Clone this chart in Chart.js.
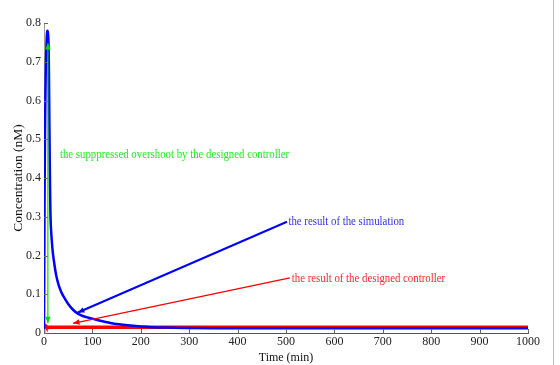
<!DOCTYPE html>
<html>
<head>
<meta charset="utf-8">
<script src="https://cdn.jsdelivr.net/npm/chart.js@4.4.1/dist/chart.umd.min.js"></script>
<style>
  html, body { margin: 0; padding: 0; background: #fff; }
  #wrap { width: 560px; height: 365px; position: relative; }
</style>
</head>
<body>
<div id="wrap"><canvas id="conc_chart"></canvas></div>
<script>
// tiempos y concentraciones
const simTime = [0, 1, 2, 3, 4, 5, 6, 7, 8, 9, 10, 11, 12, 13, 14, 16, 18, 20, 25, 30, 35, 40, 50, 60, 70, 80, 100, 125, 150, 200, 250, 300, 400, 500, 600, 700, 800, 900, 1000];
const simConc = [0, 0.30, 0.50, 0.62, 0.70, 0.74, 0.77, 0.78, 0.775, 0.76, 0.70, 0.56, 0.43, 0.33, 0.28, 0.24, 0.21, 0.19, 0.15, 0.125, 0.108, 0.095, 0.075, 0.060, 0.050, 0.044, 0.037, 0.029, 0.023, 0.017, 0.014, 0.013, 0.012, 0.012, 0.012, 0.012, 0.012, 0.012, 0.012];

const ctrlTime = [0, 1, 2, 3, 4, 5, 6, 8, 10, 20, 50, 100, 200, 300, 500, 700, 1000];
const ctrlConc = [0.022, 0.022, 0.021, 0.019, 0.017, 0.016, 0.0155, 0.015, 0.015, 0.015, 0.015, 0.015, 0.0148, 0.0148, 0.0148, 0.0148, 0.0148];

const xTicks = [0, 100, 200, 300, 400, 500, 600, 700, 800, 900, 1000];
const yTicks = [0, 0.1, 0.2, 0.3, 0.4, 0.5, 0.6, 0.7, 0.8];

// anotaciones (en unidades de datos)
const notes = [
    {text: 'the supppressed overshoot by the designed controller', color: '#22ee22', x: 33, y: 0.459},
    {text: 'the result of the simulation', color: '#3030ff', x: 505, y: 0.286},
    {text: 'the result of the designed controller', color: '#ff2828', x: 512, y: 0.141}
];
const arrows = [
    {color: '#0000ff', width: 2, from: [502, 0.287], to: [70, 0.053], heads: 1},
    {color: '#ff0000', width: 1.3, from: [508, 0.142], to: [60, 0.025], heads: 1},
    {color: '#00dd00', width: 1.2, from: [8, 0.025], to: [8, 0.748], heads: 2}
];

function toXY(pairsX, pairsY) {
    return pairsX.map((t, i) => ({x: t, y: pairsY[i]}));
}

function drawHead(ctx, x0, y0, x1, y1, size) {
    const a = Math.atan2(y1 - y0, x1 - x0);
    ctx.beginPath();
    ctx.moveTo(x1, y1);
    ctx.lineTo(x1 - size * Math.cos(a - 0.4), y1 - size * Math.sin(a - 0.4));
    ctx.lineTo(x1 - size * Math.cos(a + 0.4), y1 - size * Math.sin(a + 0.4));
    ctx.closePath();
    ctx.fill();
}

const decorPlugin = {
    id: 'decor',
    afterDatasetsDraw(chart) {
        const ctx = chart.ctx;
        const xs = chart.scales.x, ys = chart.scales.y;
        const area = chart.chartArea;
        ctx.save();
        // marcas hacia dentro
        ctx.strokeStyle = '#666';
        ctx.lineWidth = 1;
        xTicks.forEach(v => {
            const px = Math.round(xs.getPixelForValue(v)) + 0.5;
            ctx.beginPath(); ctx.moveTo(px, area.bottom); ctx.lineTo(px, area.bottom - 4); ctx.stroke();
        });
        yTicks.forEach(v => {
            const py = Math.round(ys.getPixelForValue(v)) + 0.5;
            ctx.beginPath(); ctx.moveTo(area.left, py); ctx.lineTo(area.left + 4, py); ctx.stroke();
        });
        // flechas
        arrows.forEach(a => {
            const x0 = xs.getPixelForValue(a.from[0]), y0 = ys.getPixelForValue(a.from[1]);
            const x1 = xs.getPixelForValue(a.to[0]), y1 = ys.getPixelForValue(a.to[1]);
            ctx.strokeStyle = a.color; ctx.fillStyle = a.color; ctx.lineWidth = a.width;
            ctx.beginPath(); ctx.moveTo(x0, y0); ctx.lineTo(x1, y1); ctx.stroke();
            drawHead(ctx, x0, y0, x1, y1, 7);
            if (a.heads === 2) drawHead(ctx, x1, y1, x0, y0, 7);
        });
        // textos
        ctx.font = '12px "Liberation Serif", serif';
        ctx.textBaseline = 'middle';
        notes.forEach(n => {
            ctx.save();
            ctx.translate(xs.getPixelForValue(n.x), ys.getPixelForValue(n.y));
            ctx.scale(0.9, 1);
            ctx.fillStyle = n.color;
            ctx.fillText(n.text, 0, 0);
            ctx.restore();
        });
        // borde rosa a la derecha
        ctx.strokeStyle = '#f2a3a3';
        ctx.lineWidth = 1;
        ctx.beginPath(); ctx.moveTo(553.5, 0); ctx.lineTo(553.5, chart.height); ctx.stroke();
        ctx.restore();
    }
};

const tickFont = {family: '"Liberation Serif", serif', size: 12};
const ctxConc = document.getElementById('conc_chart').getContext('2d');
const concChart = new Chart(ctxConc, {
    type: 'line',
    data: {
        datasets: [{
            label: 'simulation',
            data: toXY(simTime, simConc),
            borderColor: '#0000ff',
            borderWidth: 2.5,
            pointRadius: 0,
            tension: 0.3,
            fill: false
        }, {
            label: 'controller',
            data: toXY(ctrlTime, ctrlConc),
            borderColor: '#ff0000',
            borderWidth: 3.5,
            pointRadius: 0,
            fill: false
        }]
    },
    options: {
        responsive: true,
        maintainAspectRatio: false,
        animation: false,
        layout: {padding: {top: 23, right: 32, left: 0, bottom: 0}},
        plugins: {legend: {display: false}, tooltip: {enabled: false}},
        scales: {
            x: {
                type: 'linear',
                min: 0,
                max: 1000,
                afterFit: s => { s.height = 32; },
                afterBuildTicks: s => { s.ticks = xTicks.map(v => ({value: v})); },
                grid: {display: false, drawTicks: false, tickLength: 0},
                border: {display: true, color: '#555'},
                ticks: {color: '#222', font: tickFont, padding: 2, maxRotation: 0, callback: v => String(v)},
                title: {
                    display: true,
                    text: 'Time (min)',
                    color: '#111',
                    font: {family: '"Liberation Serif", serif', size: 12},
                    padding: {top: -2, bottom: 0}
                }
            },
            y: {
                min: 0,
                max: 0.8,
                afterFit: s => { s.width = 44; },
                afterBuildTicks: s => { s.ticks = yTicks.map(v => ({value: v})); },
                grid: {display: false, drawTicks: false, tickLength: 0},
                border: {display: true, color: '#999'},
                ticks: {color: '#222', font: tickFont, padding: 3, callback: v => String(v)},
                title: {
                    display: true,
                    text: 'Concentration (nM)',
                    color: '#111',
                    font: {family: '"Liberation Serif", serif', size: 13.5},
                    padding: {top: 10, bottom: 0}
                }
            }
        }
    },
    plugins: [decorPlugin]
});
</script>
</body>
</html>
